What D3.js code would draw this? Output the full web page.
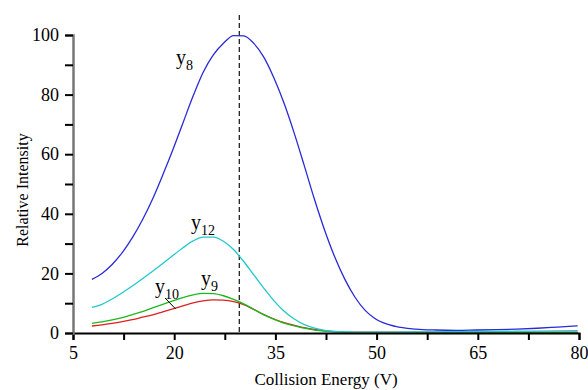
<!DOCTYPE html>
<html>
<head>
<meta charset="utf-8">
<script src="https://cdn.jsdelivr.net/npm/d3@7"></script>
<style>
  body { margin: 0; background: #fff; }
  svg { display: block; }
</style>
</head>
<body>
<svg id="chart"></svg>
<script>
// collision energy values (V)
const energy = [7.8, 9.3, 10.8, 12.3, 13.8, 15.3, 16.8, 18.3, 19.8, 21.3, 22.8, 24.3, 25.8, 27.3,
  28.8, 30.3, 31.8, 33.3, 34.8, 36.3, 37.8, 39.3, 40.8, 42.3, 43.8, 45.3, 46.8, 48.3, 49.8,
  52.8, 55.8, 58.8, 61.8, 64.8, 67.8, 70.8, 73.8, 76.8, 79.8];

const y8 = [18, 20, 23, 27, 32, 38, 45, 53, 61.5, 70.5, 79.5, 87.5, 93.3, 97.2,
  99.8, 99.7, 97.2, 92.5, 85.5, 77, 67, 56, 44.8, 34.5, 25.5, 18, 12, 7.6, 4.8,
  2.2, 1.3, 1.0, 0.9, 1.0, 1.1, 1.3, 1.6, 2.0, 2.4];

const y12 = [8.6, 9.6, 11.4, 13.5, 15.8, 18.2, 20.7, 23.3, 26, 28.6, 30.9, 32.2, 32.2, 30.8,
  28, 24, 19.5, 15, 10.8, 7.3, 4.7, 2.8, 1.6, 0.9, 0.5, 0.35, 0.3, 0.3, 0.3,
  0.3, 0.35, 0.4, 0.45, 0.5, 0.55, 0.6, 0.65, 0.7, 0.75];

const y9 = [3.25, 3.7, 4.4, 5.2, 6.2, 7.2, 8.4, 9.6, 10.8, 11.9, 12.8, 13.3, 13.2, 12.5,
  11.3, 9.8, 7.9, 6.1, 4.6, 3.3, 2.4, 1.6, 1.0, 0.6, 0.35, 0.2, 0.15, 0.15, 0.15,
  0.15, 0.15, 0.15, 0.15, 0.15, 0.15, 0.15, 0.15, 0.15, 0.15];

const y10 = [2.35, 2.7, 3.2, 3.8, 4.5, 5.3, 6.1, 7.1, 8.1, 9.1, 10.1, 10.8, 11.1, 11,
  10.5, 9.5, 7.9, 6.2, 4.7, 3.5, 2.6, 1.8, 1.2, 0.75, 0.45, 0.3, 0.25, 0.25, 0.25,
  0.25, 0.25, 0.25, 0.25, 0.25, 0.25, 0.25, 0.25, 0.25, 0.25];

const xTicks = [5, 12.5, 20, 27.5, 35, 42.5, 50, 57.5, 65, 72.5, 80];
const xLabels = [5, 20, 35, 50, 65, 80];
const yTicks = [0, 10, 20, 30, 40, 50, 60, 70, 80, 90, 100];
const yLabels = [0, 20, 40, 60, 80, 100];
const optimum = 29.65;

const series = [
  { name: "8", values: y8, color: "#2a2ad6" },
  { name: "12", values: y12, color: "#20c8cc" },
  { name: "9", values: y9, color: "#1cb91c" },
  { name: "10", values: y10, color: "#dd2020" }
];

const FONT = "'Liberation Serif'";

// set the dimensions and margins of the graph
const W = 588, H = 390;
const margin = { top: 35, right: 9, bottom: 57, left: 73 };

const x = d3.scaleLinear().domain([5, 80]).range([margin.left, W - margin.right]);
const y = d3.scaleLinear().domain([0, 100]).range([H - margin.bottom, margin.top]);

const svg = d3.select("#chart").attr("width", W).attr("height", H);

// dashed line at the optimum energy
svg.append("line")
  .attr("x1", x(optimum)).attr("x2", x(optimum))
  .attr("y1", 15).attr("y2", y(0))
  .attr("stroke", "#222").attr("stroke-width", 1.3)
  .attr("stroke-dasharray", "5,3");

// curves
const line = d3.line()
  .x((d, i) => x(energy[i]))
  .y(d => y(d))
  .curve(d3.curveMonotoneX);

svg.selectAll(".curve")
  .data(series.slice().reverse())
  .enter().append("path")
  .attr("class", "curve")
  .attr("fill", "none")
  .attr("stroke", d => d.color)
  .attr("stroke-width", 1.3)
  .attr("d", d => line(d.values));

// x axis
const gx = svg.append("g")
  .attr("transform", "translate(0," + y(0) + ")")
  .call(d3.axisBottom(x).tickValues(xTicks).tickSize(7).tickPadding(6)
    .tickFormat(d => xLabels.includes(d) ? d : ""));
gx.style("font-family", FONT).style("font-size", "18px");
gx.select(".domain").attr("stroke", "#000").attr("stroke-width", 2);
gx.selectAll(".tick line").attr("stroke", "#000").attr("stroke-width", 2);
gx.selectAll("text").style("font-family", FONT).attr("fill", "#000");

// y axis
const gy = svg.append("g")
  .attr("transform", "translate(" + x(5) + ",0)")
  .call(d3.axisLeft(y).tickValues(yTicks).tickSize(8).tickPadding(6)
    .tickFormat(d => yLabels.includes(d) ? d : ""));
gy.style("font-family", FONT).style("font-size", "18px");
gy.select(".domain").attr("stroke", "#777").attr("stroke-width", 2.5);
gy.selectAll(".tick line").attr("stroke", "#000").attr("stroke-width", 2);
gy.selectAll("text").style("font-family", FONT).attr("fill", "#000");

// axis titles
svg.append("text")
  .attr("x", (x(5) + x(80)) / 2).attr("y", 385)
  .attr("text-anchor", "middle")
  .style("font-family", FONT).style("font-size", "17px")
  .text("Collision Energy (V)");

svg.append("text")
  .attr("transform", "translate(28," + 190 + ") rotate(-90)")
  .attr("text-anchor", "middle")
  .style("font-family", FONT).style("font-size", "16px")
  .text("Relative Intensity");

// curve labels
const labels = [
  { sub: "8", px: 176, py: 64 },
  { sub: "12", px: 191, py: 229 },
  { sub: "9", px: 201, py: 285 },
  { sub: "10", px: 155, py: 293 }
];
labels.forEach(l => {
  const t = svg.append("text").attr("x", l.px).attr("y", l.py)
    .style("font-family", FONT).style("font-size", "20px");
  t.append("tspan").text("y");
  t.append("tspan").style("font-size", "14px").attr("dy", 6).text(l.sub);
});

// leader from y10 label to its curve
svg.append("line")
  .attr("x1", 165).attr("y1", 298).attr("x2", x(20.2)).attr("y2", y(8.1))
  .attr("stroke", "#000").attr("stroke-width", 1);
</script>
</body>
</html>
